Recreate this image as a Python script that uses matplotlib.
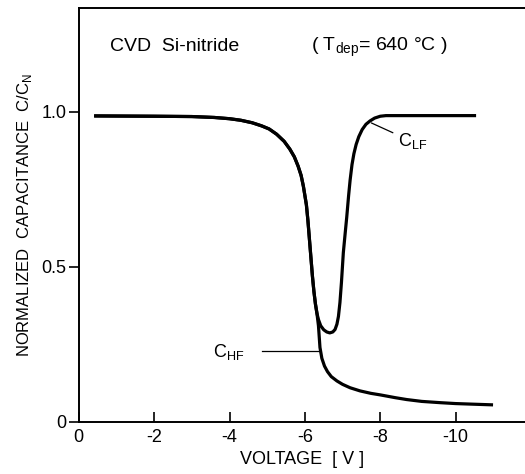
import matplotlib
matplotlib.use("Agg")
import matplotlib.pyplot as plt

plt.rcParams["font.family"] = ["Liberation Sans", "DejaVu Sans"]

# low-frequency C-V curve
v_lf = [-0.45, -2.0, -3.0, -3.6, -4.0, -4.3, -4.6, -4.85, -5.05, -5.25, -5.45,
        -5.6, -5.72, -5.82, -5.9, -5.96, -6.0, -6.04, -6.08, -6.12, -6.16,
        -6.2, -6.24, -6.28, -6.32, -6.36, -6.42, -6.5, -6.58, -6.66, -6.74,
        -6.8, -6.85, -6.89, -6.93, -6.97, -7.02, -7.07, -7.11, -7.16, -7.2,
        -7.25, -7.3, -7.36, -7.43, -7.52, -7.62, -7.73, -7.85, -8.0, -8.15, -10.5]
c_lf = [0.987, 0.986, 0.985, 0.982, 0.978, 0.973, 0.965, 0.955, 0.945, 0.928, 0.905,
        0.88, 0.855, 0.825, 0.795, 0.76, 0.73, 0.70, 0.65, 0.59, 0.53,
        0.47, 0.42, 0.38, 0.35, 0.33, 0.31, 0.297, 0.29, 0.287, 0.29,
        0.298, 0.315, 0.34, 0.385, 0.45, 0.546, 0.61, 0.66, 0.73, 0.78,
        0.83, 0.865, 0.895, 0.92, 0.943, 0.96, 0.971, 0.98, 0.986, 0.988, 0.988]

# high-frequency curve: same as LF up to the split, then continues down
v_hf = [-0.45, -2.0, -3.0, -3.6, -4.0, -4.3, -4.6, -4.85, -5.05, -5.25, -5.45,
        -5.6, -5.72, -5.82, -5.9, -5.96, -6.0, -6.04, -6.08, -6.12, -6.16,
        -6.2, -6.24, -6.28, -6.32, -6.36, -6.38, -6.40, -6.45, -6.52, -6.6,
        -6.7, -6.85, -7.0, -7.2, -7.46, -7.75, -8.0, -8.4, -8.7, -9.1,
        -9.58, -10.0, -10.47, -10.95]
c_hf = [0.987, 0.986, 0.985, 0.982, 0.978, 0.973, 0.965, 0.955, 0.945, 0.928, 0.905,
        0.88, 0.855, 0.825, 0.795, 0.76, 0.73, 0.70, 0.65, 0.59, 0.53,
        0.47, 0.42, 0.38, 0.35, 0.31, 0.275, 0.24, 0.205, 0.18, 0.162,
        0.146, 0.132, 0.121, 0.11, 0.100, 0.092, 0.087, 0.078, 0.072, 0.066,
        0.062, 0.059, 0.057, 0.055]

x_ticks = [0, -2, -4, -6, -8, -10]
x_labels = ["0", "-2", "-4", "-6", "-8", "-10"]
y_ticks = [0, 0.5, 1.0]
y_labels = ["0", "0.5", "1.0"]

fig = plt.figure(figsize=(5.25, 4.74), dpi=100)
ax = fig.add_axes([0.15, 0.11, 0.85, 0.873])

ax.plot(v_lf, c_lf, color="black", lw=2.3)
ax.plot(v_hf, c_hf, color="black", lw=2.3)

ax.set_xlim(0, -11.84)
ax.set_ylim(0, 1.335)
ax.spines["right"].set_visible(False)
for sp in ("left", "bottom", "top"):
    ax.spines[sp].set_linewidth(1.4)

ax.set_xticks(x_ticks)
ax.set_xticklabels(x_labels, fontsize=13)
ax.set_yticks(y_ticks)
ax.set_yticklabels(y_labels, fontsize=13)
ax.tick_params(axis="x", direction="in", length=7, width=1.2, pad=5)
ax.tick_params(axis="y", direction="out", length=7, width=1.2, pad=2)

ax.set_xlabel("VOLTAGE  [ V ]", fontsize=13, labelpad=4)
ax.set_ylabel(r"NORMALIZED  CAPACITANCE  C/C$_{\mathregular{N}}$", fontsize=12, labelpad=5)

ax.text(-0.83, 1.21, "CVD  Si-nitride", fontsize=14, ha="left", va="center")
ax.text(-6.17, 1.21, r"( T$_{\mathregular{dep}}$= 640 °C )",
        fontsize=14, ha="left", va="center")

# curve labels with leader lines
ax.text(-3.55, 0.226, r"C$_{\mathregular{HF}}$", fontsize=13, ha="left", va="center")
ax.plot([-4.85, -6.39], [0.229, 0.229], color="black", lw=0.9)
ax.text(-8.48, 0.905, r"C$_{\mathregular{LF}}$", fontsize=13, ha="left", va="center")
ax.plot([-7.77, -8.33], [0.964, 0.933], color="black", lw=0.9)

fig.savefig("out.png", dpi=100, facecolor="white")
